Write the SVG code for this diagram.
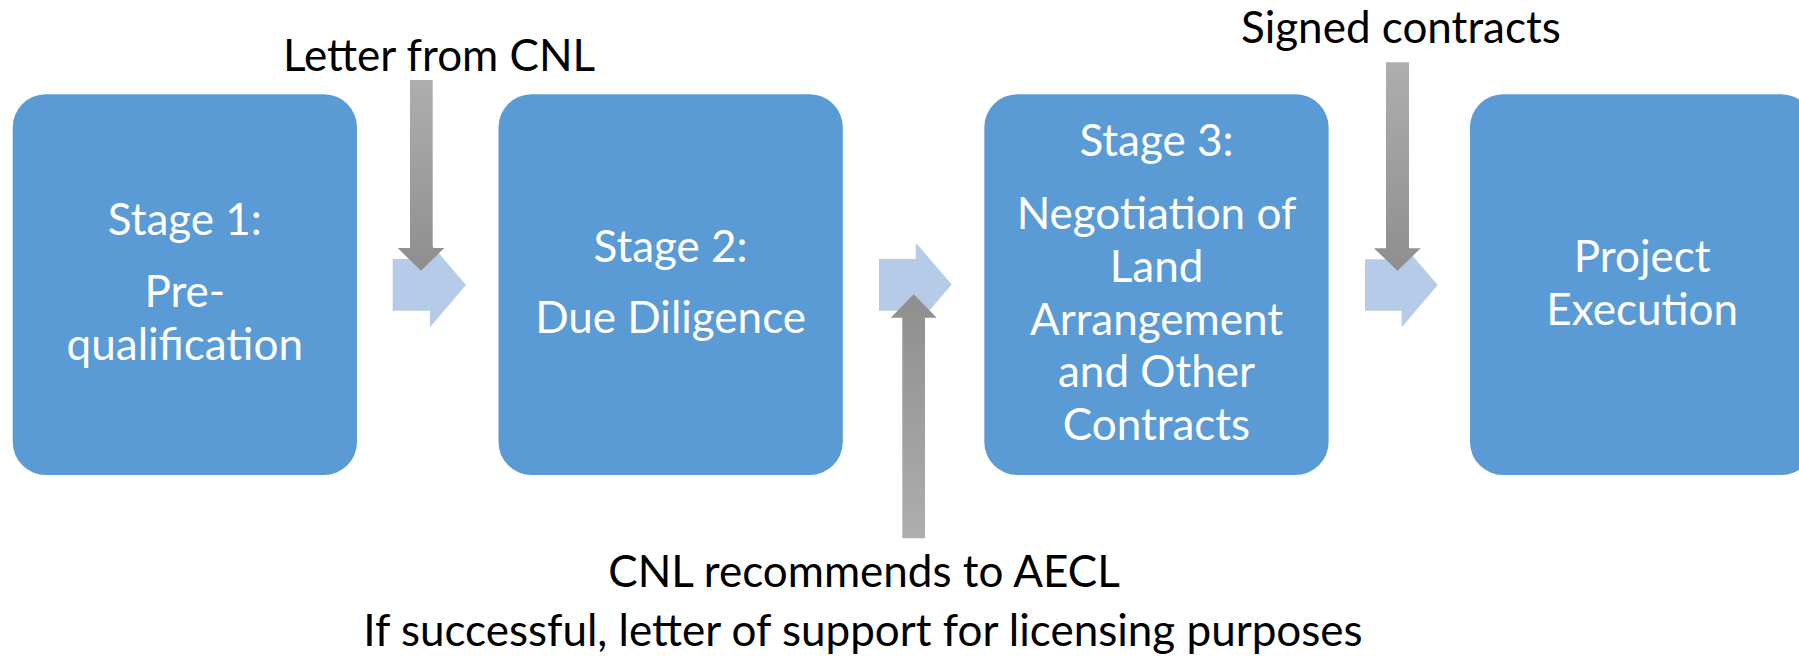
<svg xmlns="http://www.w3.org/2000/svg" width="1799" height="661" viewBox="0 0 1799 661">
  <defs>
    <style>
      .box { fill: #5B9BD5; }
      .lbl { font-family: Lato, "Liberation Sans", sans-serif; font-size: 44px; fill: #FFFFFF; text-anchor: middle; }
      .note { font-family: Lato, "Liberation Sans", sans-serif; font-size: 44px; fill: #000000; }
      .flow { fill: #B6CBE8; }
    </style>
    <linearGradient id="gDown" x1="0" y1="0" x2="0" y2="1">
      <stop offset="0" stop-color="#AEAEAE"/>
      <stop offset="1" stop-color="#8E8E8E"/>
    </linearGradient>
    <linearGradient id="gUp" x1="0" y1="1" x2="0" y2="0">
      <stop offset="0" stop-color="#AEAEAE"/>
      <stop offset="1" stop-color="#8E8E8E"/>
    </linearGradient>
  </defs>
  <rect width="1799" height="661" fill="#FFFFFF"/>

  <g id="stage1">
    <rect class="box" x="12.7" y="94.3" width="344.3" height="380.7" rx="33"/>
    <text class="lbl" x="184.8" y="235">Stage 1:</text>
    <text class="lbl" x="184.8" y="307">Pre-</text>
    <text class="lbl" x="184.8" y="360">qualification</text>
  </g>

  <g id="stage2">
    <rect class="box" x="498.5" y="94.3" width="344.3" height="380.7" rx="33"/>
    <text class="lbl" x="670.6" y="261.7">Stage 2:</text>
    <text class="lbl" x="670.6" y="333.3">Due Diligence</text>
  </g>

  <g id="stage3">
    <rect class="box" x="984.3" y="94.3" width="344.3" height="380.7" rx="33"/>
    <text class="lbl" x="1156.5" y="156">Stage 3:</text>
    <text class="lbl" x="1156.5" y="229">Negotiation of</text>
    <text class="lbl" x="1156.5" y="281.6">Land</text>
    <text class="lbl" x="1156.5" y="335">Arrangement</text>
    <text class="lbl" x="1156.5" y="387">and Other</text>
    <text class="lbl" x="1156.5" y="439.7">Contracts</text>
  </g>

  <g id="execution">
    <rect class="box" x="1470" y="94.3" width="344.3" height="380.7" rx="33"/>
    <text class="lbl" x="1642.2" y="271.7">Project</text>
    <text class="lbl" x="1642.2" y="325">Execution</text>
  </g>

  <g id="connectors">
    <path class="flow" d="M392.7,259 H430 V243 L466,285 L430,327.3 V310.7 H392.7 Z"/>
    <path class="flow" d="M879,259 H915.7 V242.7 L951.7,284.5 L915.7,326.5 V310.7 H879 Z"/>
    <path class="flow" d="M1365,259.3 H1401.7 V243 L1437.7,285 L1401.7,327.3 V310.7 H1365 Z"/>
    <path fill="url(#gDown)" d="M410,80 H432.7 V248 H444.3 L421,270.7 L397.7,248 H410 Z"/>
    <path fill="url(#gUp)" d="M902.3,538.3 H925 V317.7 H936.7 L913.7,294.3 L890.7,317.7 H902.3 Z"/>
    <path fill="url(#gDown)" d="M1386,62.3 H1409 V248.3 H1420.7 L1397.5,270.7 L1374,248.3 H1386 Z"/>
  </g>

  <g id="notes">
    <text class="note" x="283" y="71" font-size="43">Letter from CNL</text>
    <text class="note" x="1241" y="43" font-size="43">Signed contracts</text>
    <text class="note" x="864" y="587" text-anchor="middle">CNL recommends to AECL</text>
    <text class="note" x="863" y="646" text-anchor="middle">If successful, letter of support for licensing purposes</text>
  </g>
</svg>
